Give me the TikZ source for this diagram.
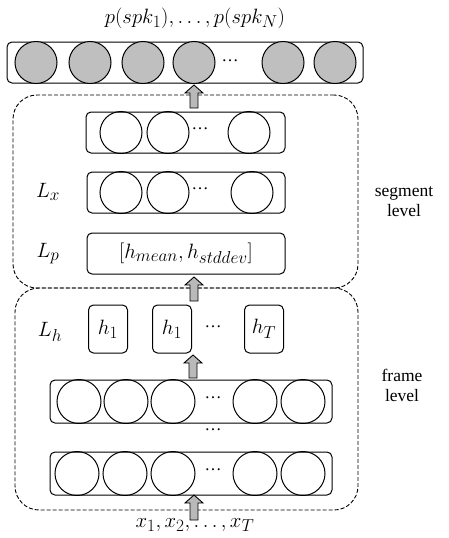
\documentclass[tikz,border=0pt]{standalone}
\usepackage{fontspec}
\setmainfont{Liberation Serif}
\DeclareMathSizes{20}{20}{16}{12}
\usetikzlibrary{calc}

\tikzset{
  layer/.style={draw, rounded corners=5pt, line width=1pt, inner sep=0pt},
  unit/.style={draw, circle, line width=1pt, minimum size=42pt, inner sep=0pt},
  outunit/.style={unit, fill=gray!50},
  level/.style={draw, dash pattern=on 4pt off 2pt, rounded corners=24pt, line width=0.9pt, inner sep=0pt},
  hbox/.style={draw, rounded corners=5pt, line width=1pt, minimum width=39pt, minimum height=48pt, inner sep=0pt},
  lab/.style={font=\fontsize{17.5}{20}\selectfont},
  mlab/.style={font=\fontsize{20}{22}\selectfont},
  dots/.style={font=\fontsize{17}{20}\selectfont, inner sep=0pt},
  fatarrow/.style={draw, fill=gray!55, line width=0.9pt}
}

% block arrow from #1 up to #2
\newcommand{\fatarr}[2]{%
  \draw[fatarrow] let \p1=(#1), \p2=(#2) in
    (\x1-4pt,\y1) -- (\x1-4pt,\y2-8pt) -- (\x1-9pt,\y2-8pt) -- (\x1,\y2)
    -- (\x1+9pt,\y2-8pt) -- (\x1+4pt,\y2-8pt) -- (\x1+4pt,\y1) -- cycle;}

\begin{document}
\begin{tikzpicture}[x=1pt,y=-1pt]
  \useasboundingbox (0,0) rectangle (448,538);

  % the two levels
  \node[level, minimum width=345pt, minimum height=193pt] (seg) at (185.5,191.5) {};
  \node[level, minimum width=343pt, minimum height=222pt] (frame) at (186.5,399) {};
  \node[lab, align=center] (segtxt) at (404,202) {segment\\level};
  \node[lab, align=center] (frametxt) at (402,385) {frame\\level};

  % output layer
  \node[mlab] (ptxt) at (195,18) {$p(spk_1),\dots,p(spk_N)$};
  \node[layer, minimum width=356pt, minimum height=41pt] (out) at (185,62.5) {};
  \foreach [count=\i] \cx in {36,90,143,194,283,335}
    \node[outunit] (o\i) at (\cx,62.5) {};
  \node[dots] (odots) at (230,61) {…};

  % segment level layers
  \node[layer, minimum width=199pt, minimum height=41pt] (s2) at (185.5,132.5) {};
  \foreach [count=\i] \cx in {121,168,249}
    \node[unit] (s2u\i) at (\cx,132.5) {};
  \node[dots] (s2dots) at (200,129) {…};

  \node[layer, minimum width=198pt, minimum height=41pt] (lx) at (186,192.5) {};
  \foreach [count=\i] \cx in {121,168,252}
    \node[unit] (lxu\i) at (\cx,192.5) {};
  \node[dots] (lxdots) at (200,189) {…};
  \node[mlab] (lxtxt) at (48,192) {$L_x$};

  \node[layer, mlab, minimum width=198pt, minimum height=41pt] (lp) at (186,253.5) {$[h_{mean},h_{stddev}]$};
  \node[mlab] (lptxt) at (48,254) {$L_p$};

  % frame level layers
  \node[mlab] (lhtxt) at (50,332) {$L_h$};
  \node[hbox, mlab] (h1) at (108,329) {$h_1$};
  \node[hbox, mlab] (h2) at (172,329) {$h_1$};
  \node[hbox, mlab] (hT) at (264,329) {$h_T$};
  \node[dots] (hdots) at (213,327) {…};

  \node[layer, minimum width=282pt, minimum height=43pt] (fa) at (191,401.5) {};
  \foreach [count=\i] \cx in {79,126,173,255,303}
    \node[unit, minimum size=44pt] (fau\i) at (\cx,401.5) {};
  \node[dots] (fadots) at (213,398) {…};
  \node[dots] (vdots) at (213,430) {…};

  \node[layer, minimum width=282pt, minimum height=43pt] (fb) at (191,473.5) {};
  \foreach [count=\i] \cx in {77,125,173,255,303}
    \node[unit, minimum size=44pt] (fbu\i) at (\cx,473.5) {};
  \node[dots] (fbdots) at (213,470) {…};

  \node[mlab] (xtxt) at (195,525) {$x_1,x_2,\dots,x_T$};

  % arrows
  \coordinate (a1s) at (194,108);  \coordinate (a1e) at (194,85);
  \coordinate (a2s) at (194,301);  \coordinate (a2e) at (194,277);
  \coordinate (a3s) at (193,378);  \coordinate (a3e) at (193,355);
  \coordinate (a4s) at (194,520);  \coordinate (a4e) at (194,495);
  \fatarr{a1s}{a1e}
  \fatarr{a2s}{a2e}
  \fatarr{a3s}{a3e}
  \fatarr{a4s}{a4e}
\end{tikzpicture}
\end{document}
